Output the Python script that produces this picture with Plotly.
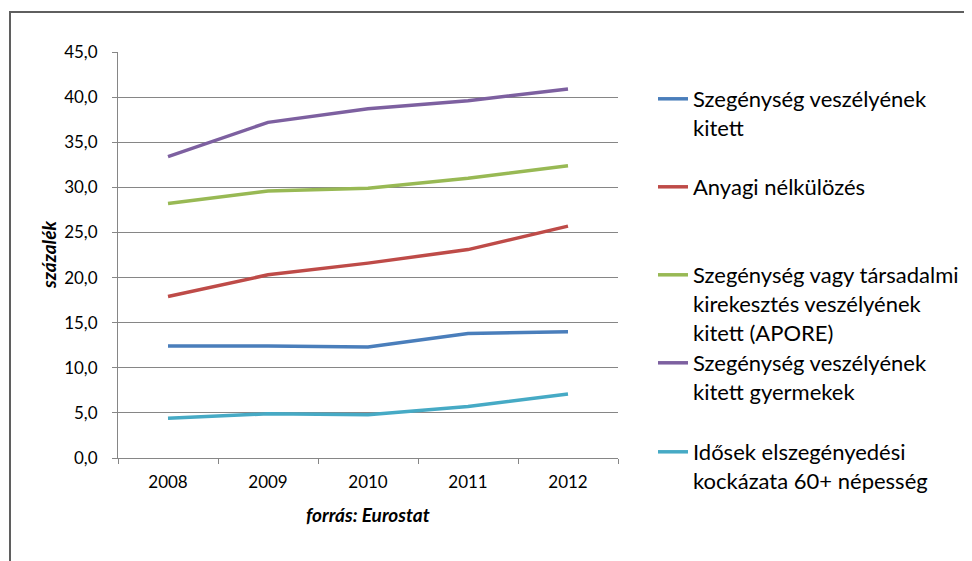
import plotly.graph_objects as go

years = ["2008", "2009", "2010", "2011", "2012"]
names = [
    "Szegénység veszélyének<br>kitett",
    "Anyagi nélkülözés",
    "Szegénység vagy társadalmi<br>kirekesztés veszélyének<br>kitett (APORE)",
    "Szegénység veszélyének<br>kitett gyermekek",
    "Idősek elszegényedési<br>kockázata 60+ népesség",
]
szegenyseg = [12.4, 12.4, 12.3, 13.8, 14.0]
anyagi = [17.9, 20.3, 21.6, 23.1, 25.7]
apore = [28.2, 29.6, 29.9, 31.0, 32.4]
gyermekek = [33.4, 37.2, 38.7, 39.6, 40.9]
idosek = [4.4, 4.9, 4.8, 5.7, 7.1]
series = [szegenyseg, anyagi, apore, gyermekek, idosek]
colors = ["#4A7EBB", "#BE4B48", "#98B954", "#7D60A0", "#46AAC5"]
y_ticks = [0, 5, 10, 15, 20, 25, 30, 35, 40, 45]
y_ticklabels = ["0,0", "5,0", "10,0", "15,0", "20,0", "25,0", "30,0", "35,0", "40,0", "45,0"]

W, H = 972, 561
OFF = 8  # page body margin
# plot area in page coordinates
L, R, T, B = 118, 618, 52, 458

def px(xp):
    return (xp - L) / (R - L)

def py(yp):
    return (B - yp) / (B - T)

FONT = "Lato"
legend_line_y = [99, 187, 275, 363, 452]
legend_keys = ["legend", "legend2", "legend3", "legend4", "legend5"]

fig = go.Figure()
for i, (nm, vals, col) in enumerate(zip(names, series, colors)):
    fig.add_trace(go.Scatter(
        x=years, y=vals, mode="lines", name=nm,
        line=dict(color=col, width=3.5),
        legend=legend_keys[i],
        hoverinfo="skip",
    ))

layout = dict(
    width=W, height=H,
    margin=dict(l=L - OFF, r=W - (R - OFF), t=T - OFF, b=H - (B - OFF)),
    paper_bgcolor="white", plot_bgcolor="white",
    font=dict(family=FONT, size=17, color="#000000"),
    xaxis=dict(
        type="category", range=[-0.5, 4.5],
        showline=True, linecolor="#868686", linewidth=1,
        ticks="outside", ticklen=5, tickcolor="#868686", tickson="boundaries",
        showgrid=False, zeroline=False,
        tickfont=dict(family=FONT, size=17),
        ticklabelstandoff=9,
    ),
    yaxis=dict(
        range=[0, 45], tickvals=y_ticks, ticktext=y_ticklabels,
        showline=True, linecolor="#868686", linewidth=1,
        ticks="outside", ticklen=5, tickcolor="#868686",
        showgrid=True, gridcolor="#868686", gridwidth=1, zeroline=False,
        tickfont=dict(family=FONT, size=17),
        ticklabelstandoff=11,
    ),
    showlegend=True,
    shapes=[dict(
        type="rect", xref="paper", yref="paper",
        x0=px(10), x1=px(1000), y0=py(600), y1=py(12),
        line=dict(color="#5F5F5F", width=2), fillcolor="rgba(0,0,0,0)",
        layer="below",
    )],
    annotations=[
        dict(text="<b><i>százalék</i></b>", xref="paper", yref="paper",
             x=px(48), y=0.5, textangle=-90, showarrow=False,
             font=dict(family=FONT, size=19), xanchor="center", yanchor="middle"),
        dict(text="<b><i>forrás: Eurostat</i></b>", xref="paper", yref="paper",
             x=0.5, y=py(514), showarrow=False,
             font=dict(family=FONT, size=19), xanchor="center", yanchor="middle"),
    ],
)
for key, ly in zip(legend_keys, legend_line_y):
    layout[key] = dict(
        x=px(653), y=py(ly - 21), xanchor="left", yanchor="top",
        bgcolor="rgba(0,0,0,0)", borderwidth=0, valign="top",
        font=dict(family=FONT, size=22, color="#000000"),
        itemwidth=30, tracegroupgap=0,
    )
fig.update_layout(**layout)
fig.write_html("out.html")
